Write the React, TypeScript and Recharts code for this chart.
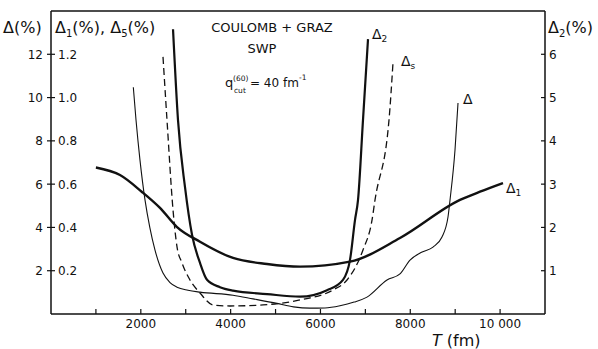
import { LineChart, Line, XAxis, YAxis, ReferenceLine } from 'recharts';

// T axis (fm)
const tTicks = [1000, 2000, 3000, 4000, 5000, 6000, 7000, 8000, 9000, 10000];
const tTickLabels = ['', '2000', '', '4000', '', '6000', '', '8000', '', '10 000'];

// left axes: Δ(%) and Δ1(%), Δs(%)
const deltaTicks = [2, 4, 6, 8, 10, 12];
const deltaTickLabels = ['2', '4', '6', '8', '10', '12'];
const delta1TickLabels = ['0.2', '0.4', '0.6', '0.8', '1.0', '1.2'];

// right axis: Δ2(%)
const delta2Ticks = [1, 2, 3, 4, 5, 6];

// Δ (thin)
const deltaT = [1833, 1893, 1982, 2093, 2200, 2316, 2494, 2650, 2806, 3050, 3318, 4053, 4500, 5032, 5400, 5767, 6100, 6435, 6750, 7036, 7482, 7771, 7994, 8250, 8506, 8706, 8840, 8885, 8996, 9063];
const deltaV = [10.48, 8.96, 7.1, 5.27, 4.0, 2.95, 1.89, 1.45, 1.24, 1.1, 1.01, 0.87, 0.7, 0.49, 0.33, 0.27, 0.28, 0.38, 0.55, 0.78, 1.57, 1.85, 2.49, 2.85, 3.09, 3.56, 4.48, 5.27, 7.58, 9.75];

// Δ1 (thick)
const delta1T = [1000, 1536, 2020, 2427, 2800, 3318, 4053, 4810, 5545, 6658, 7771, 9107, 9553, 10065];
const delta1V = [0.677, 0.642, 0.565, 0.49, 0.403, 0.334, 0.259, 0.231, 0.219, 0.242, 0.351, 0.527, 0.565, 0.605];

// Δs (dashed)
const deltaST = [2494, 2583, 2717, 2806, 2917, 3095, 3318, 3607, 3986, 4721, 5545, 6279, 6591, 6947, 7148, 7215, 7526, 7615];
const deltaSV = [1.188, 0.896, 0.481, 0.31, 0.236, 0.157, 0.097, 0.042, 0.037, 0.042, 0.065, 0.111, 0.157, 0.296, 0.434, 0.527, 0.896, 1.16];

// Δ2 (thick, right axis)
const delta2T = [2717, 2828, 2984, 3140, 3318, 3474, 3763, 4053, 4810, 5545, 6146, 6502, 6658, 6769, 6836, 6947, 7059];
const delta2V = [6.58, 4.48, 2.93, 1.83, 1.18, 0.79, 0.62, 0.54, 0.46, 0.4, 0.55, 0.79, 1.25, 2.17, 2.63, 4.48, 6.35];

const zip = (ts: number[], vs: number[]) => ts.map((t, i) => ({ t, v: vs[i] }));
const deltaData = zip(deltaT, deltaV);
const delta1Data = zip(delta1T, delta1V);
const deltaSData = zip(deltaST, deltaSV);
const delta2Data = zip(delta2T, delta2V);

const font = "'DejaVu Sans', sans-serif";
const ink = '#111';

function TTick({ x, y, payload }: any) {
  const label = tTickLabels[tTicks.indexOf(payload.value)] || '';
  return (
    <g>
      <line x1={x} x2={x} y1={y} y2={y - 5} stroke={ink} strokeWidth={1.2} />
      {label && (
        <text x={x} y={y + 14} textAnchor="middle" fontSize={12} fontFamily={font} fill={ink}>
          {label}
        </text>
      )}
    </g>
  );
}

function LeftTick({ x, y, payload }: any) {
  const i = deltaTicks.indexOf(payload.value);
  return (
    <g>
      <line x1={x - 4} x2={x + 4} y1={y} y2={y} stroke={ink} strokeWidth={1.2} />
      <text x={x - 8} y={y + 4.5} textAnchor="end" fontSize={12} fontFamily={font} fill={ink}>
        {deltaTickLabels[i]}
      </text>
      <text x={x + 7} y={y + 4.5} textAnchor="start" fontSize={12} fontFamily={font} fill={ink}>
        {delta1TickLabels[i]}
      </text>
    </g>
  );
}

function RightTick({ x, y, payload }: any) {
  return (
    <g>
      <line x1={x - 4} x2={x} y1={y} y2={y} stroke={ink} strokeWidth={1.2} />
      <text x={x + 4} y={y + 4.5} textAnchor="start" fontSize={12} fontFamily={font} fill={ink}>
        {payload.value}
      </text>
    </g>
  );
}

function Overlay() {
  const t = { fontFamily: font, fill: ink };
  return (
    <svg width={598} height={349} style={{ position: 'absolute', left: 0, top: 0, pointerEvents: 'none' }}>
      {/* axis titles */}
      <text x={3} y={33} fontSize={16} {...t}>Δ(%)</text>
      <text x={55} y={33} fontSize={16} {...t}>
        Δ<tspan fontSize={10} dy={4}>1</tspan>
        <tspan dy={-4}>(%), Δ</tspan>
        <tspan fontSize={10} dy={4}>5</tspan>
        <tspan dy={-4}>(%)</tspan>
      </text>
      <text x={548} y={33} fontSize={16} {...t}>
        Δ<tspan fontSize={10} dy={4}>2</tspan>
        <tspan dy={-4}>(%)</tspan>
      </text>
      <text x={432} y={346} fontSize={16} {...t}>
        <tspan fontStyle="italic">T</tspan> (fm)
      </text>

      {/* annotation */}
      <text x={272} y={32} fontSize={13} textAnchor="middle" {...t}>COULOMB + GRAZ</text>
      <text x={262} y={53} fontSize={13} textAnchor="middle" {...t}>SWP</text>
      <text x={225} y={87} fontSize={13} {...t}>q</text>
      <text x={233} y={81} fontSize={7.5} {...t}>(60)</text>
      <text x={234} y={93} fontSize={7.5} {...t}>cut</text>
      <text x={250} y={87} fontSize={12} {...t}>= 40 fm</text>
      <text x={299} y={80} fontSize={7.5} {...t}>-1</text>

      {/* curve labels */}
      <text x={372} y={39} fontSize={14} {...t}>
        Δ<tspan fontSize={9} dy={3}>2</tspan>
      </text>
      <text x={401} y={66} fontSize={14} {...t}>
        Δ<tspan fontSize={9} dy={3}>s</tspan>
      </text>
      <text x={463} y={104} fontSize={14} {...t}>Δ</text>
      <text x={506} y={193} fontSize={14} {...t}>
        Δ<tspan fontSize={9} dy={3}>1</tspan>
      </text>
    </svg>
  );
}

export default function App() {
  return (
    <div style={{ position: 'absolute', left: 0, top: 0, width: 598, height: 349, background: '#fff' }}>
      <LineChart width={598} height={349} margin={{ top: 11, right: 0, bottom: 0, left: 0 }}>
        <XAxis
          dataKey="t"
          type="number"
          domain={[0, 11000]}
          ticks={tTicks}
          interval={0}
          tick={<TTick />}
          tickLine={false}
          tickSize={0}
          tickMargin={0}
          height={35}
          axisLine={{ stroke: ink, strokeWidth: 1.5 }}
          allowDataOverflow
        />
        <YAxis
          yAxisId="d"
          orientation="left"
          type="number"
          domain={[0, 14]}
          ticks={deltaTicks}
          interval={0}
          tick={<LeftTick />}
          tickLine={false}
          tickSize={0}
          tickMargin={0}
          width={51}
          axisLine={{ stroke: ink, strokeWidth: 1.5 }}
          allowDataOverflow
        />
        <YAxis yAxisId="d1" orientation="left" type="number" domain={[0, 1.4]} hide allowDataOverflow />
        <YAxis
          yAxisId="d2"
          orientation="right"
          type="number"
          domain={[0, 7]}
          ticks={delta2Ticks}
          interval={0}
          tick={<RightTick />}
          tickLine={false}
          tickSize={0}
          tickMargin={0}
          width={53}
          axisLine={{ stroke: ink, strokeWidth: 1.5 }}
          allowDataOverflow
        />
        <ReferenceLine yAxisId="d" y={14} stroke={ink} strokeWidth={1.5} />

        <Line data={deltaData} dataKey="v" yAxisId="d" type="monotone" stroke={ink} strokeWidth={1.1} dot={false} isAnimationActive={false} />
        <Line data={delta1Data} dataKey="v" yAxisId="d1" type="monotone" stroke={ink} strokeWidth={2.4} dot={false} isAnimationActive={false} />
        <Line data={deltaSData} dataKey="v" yAxisId="d1" type="monotone" stroke={ink} strokeWidth={1.3} strokeDasharray="7 4" dot={false} isAnimationActive={false} />
        <Line data={delta2Data} dataKey="v" yAxisId="d2" type="monotone" stroke={ink} strokeWidth={2.2} dot={false} isAnimationActive={false} />
      </LineChart>
      <Overlay />
    </div>
  );
}
